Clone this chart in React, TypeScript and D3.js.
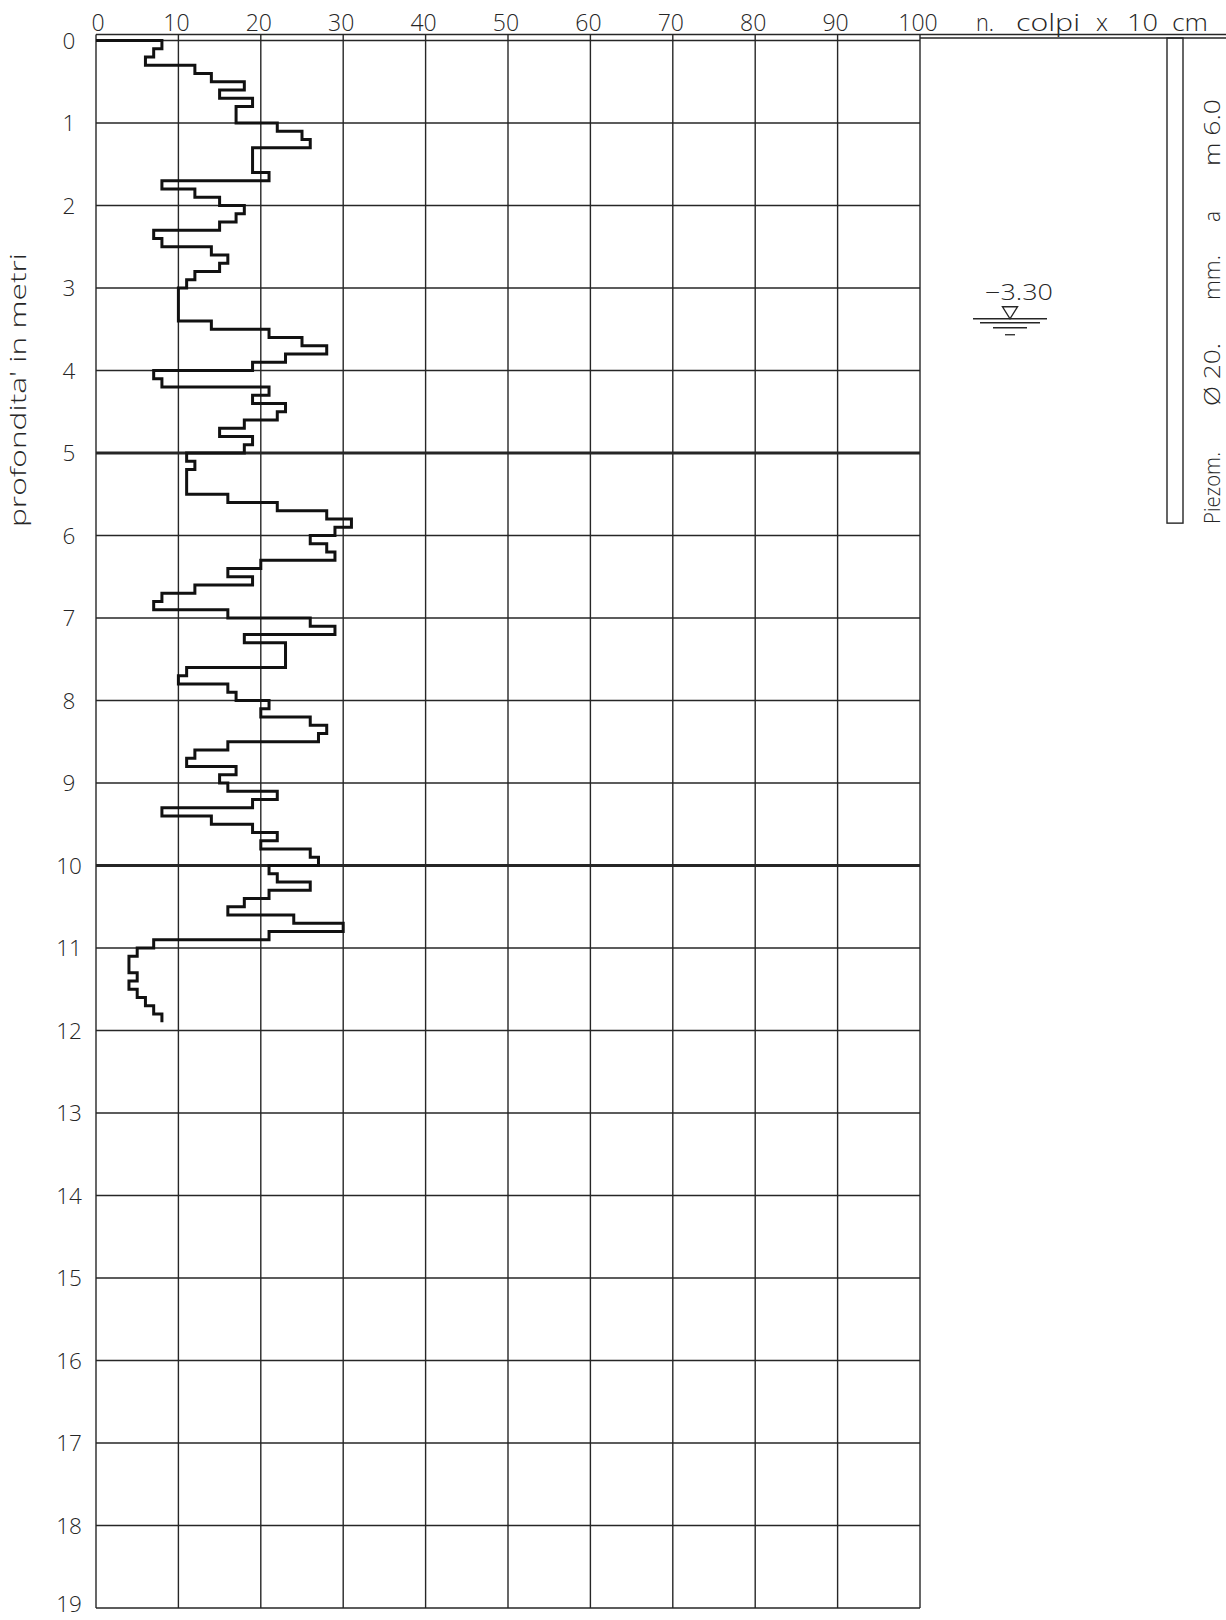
import React, { useEffect } from "react";
import * as d3 from "d3";

// ---- data ----
const depthStep = 0.1; // m per reading
// n. colpi x 10 cm, from 0.0 m downward, one value per 10 cm
const blows: number[] = [
  8, 7, 6, 12, 14, 18, 15, 19, 17, 17,
  22, 25, 26, 19, 19, 19, 21, 8, 12, 15,
  18, 17, 15, 7, 8, 14, 16, 15, 12, 11,
  10, 10, 10, 10, 14, 21, 25, 28, 23, 19,
  7, 8, 21, 19, 23, 22, 18, 15, 19, 18,
  11, 12, 11, 11, 11, 16, 22, 28, 31, 29,
  26, 28, 29, 20, 16, 19, 12, 8, 7, 16,
  26, 29, 18, 23, 23, 23, 11, 10, 16, 17,
  21, 20, 26, 28, 27, 16, 12, 11, 17, 15,
  16, 22, 19, 8, 14, 19, 22, 20, 26, 27,
  21, 22, 26, 21, 18, 16, 24, 30, 21, 7,
  5, 4, 4, 5, 4, 5, 6, 7, 8,
];
const xTicks: number[] = [0, 10, 20, 30, 40, 50, 60, 70, 80, 90, 100];
const depthTicks: number[] = d3.range(0, 20);
const heavyDepths: number[] = [5, 10];
const waterDepth = 3.3;
const waterLabel = "\u22123.30";
const piezoDepth = 5.85;
const xTitleWords: string[] = ["n.", "colpi", "x", "10", "cm"];
const yTitle = "profondita' in metri";
const piezoWords: string[] = ["Piezom.", "Ø 20.", "mm.", "a", "m 6.0"];

// layout of the word runs (pixel extents on the page)
const xTitleSpans: [number, number][] = [
  [976, 994], [1016, 1080], [1096, 1108], [1127, 1158], [1172, 1208],
];
const piezoSpans: [number, number][] = [
  [524, 452], [406, 343], [300, 255], [222, 211], [166, 99],
];

const FONT = "'Open Sans', 'DejaVu Sans', sans-serif";
const INK = "#262626";

export default function App() {
  useEffect(() => {
    document.body.style.margin = "0";
  }, []);

  const W = 1226;
  const H = 1620;
  const x = d3.scaleLinear().domain([0, 100]).range([96, 920]);
  const y = d3.scaleLinear().domain([0, 19]).range([40.5, 1608]);

  const pts: [number, number][] = [[0, 0]];
  blows.forEach((v, i) => {
    pts.push([v, i * depthStep]);
    pts.push([v, (i + 1) * depthStep]);
  });
  const line = d3
    .line<[number, number]>()
    .x((d) => x(d[0]))
    .y((d) => y(d[1]));

  const wy = y(waterDepth);
  const wx = 1010;

  return (
    <svg width={W} height={H} style={{ display: "block", background: "#fff" }}>
      {/* top header lines */}
      <line x1={x(0)} x2={W} y1={34.5} y2={34.5} stroke={INK} strokeWidth={1.3} />
      <line x1={x(100)} x2={W} y1={38} y2={38} stroke={INK} strokeWidth={1.3} />
      {/* grid */}
      {xTicks.map((t) => (
        <line key={"v" + t} x1={x(t)} x2={x(t)} y1={34.5} y2={y(19)} stroke={INK} strokeWidth={1.4} />
      ))}
      {depthTicks.map((d) => (
        <line
          key={"h" + d}
          x1={x(0)}
          x2={x(100)}
          y1={y(d)}
          y2={y(d)}
          stroke={INK}
          strokeWidth={heavyDepths.includes(d) ? 2.8 : 1.4}
        />
      ))}
      {/* top tick labels */}
      {xTicks.map((t) => (
        <text
          key={"xt" + t}
          x={x(t) + (t === 0 ? 2 : -2)}
          y={31}
          textAnchor="middle"
          fontFamily={FONT}
          fontSize={23}
          fill={INK}
          fontWeight={300}
        >
          {t}
        </text>
      ))}
      {xTitleWords.map((w, i) => (
        <text
          key={"xw" + i}
          x={xTitleSpans[i][0]}
          y={31}
          fontFamily={FONT}
          fontSize={23}
          fill={INK}
          fontWeight={300}
          textLength={xTitleSpans[i][1] - xTitleSpans[i][0]}
          lengthAdjust="spacingAndGlyphs"
        >
          {w}
        </text>
      ))}
      {/* depth labels */}
      {depthTicks.map((d) => (
        <text
          key={"yt" + d}
          x={69}
          y={Math.min(y(d) + 8, H - 8)}
          textAnchor="middle"
          fontFamily={FONT}
          fontSize={22.5}
          fill={INK}
          fontWeight={300}
        >
          {d}
        </text>
      ))}
      <text
        transform={`translate(26,390) rotate(-90)`}
        textAnchor="middle"
        fontFamily={FONT}
        fontSize={22}
        fill={INK}
        fontWeight={300}
        textLength={274}
        lengthAdjust="spacingAndGlyphs"
      >
        {yTitle}
      </text>
      {/* step line */}
      <path d={line(pts) || ""} fill="none" stroke="#111" strokeWidth={3} strokeLinejoin="miter" />
      {/* water table */}
      <text
        x={985}
        y={wy - 13}
        fontFamily={FONT}
        fontSize={22}
        fill={INK}
        fontWeight={300}
        textLength={68}
        lengthAdjust="spacingAndGlyphs"
      >
        {waterLabel}
      </text>
      <path
        d={`M${wx - 7.5},${wy - 6} L${wx + 7.5},${wy - 6} L${wx},${wy + 6} Z`}
        fill="none"
        stroke={INK}
        strokeWidth={1.4}
      />
      <line x1={wx - 37} x2={wx + 37} y1={wy + 6} y2={wy + 6} stroke={INK} strokeWidth={1.6} />
      <line x1={wx - 30} x2={wx + 30} y1={wy + 10} y2={wy + 10} stroke={INK} strokeWidth={1.3} />
      <line x1={wx - 17} x2={wx + 17} y1={wy + 15} y2={wy + 15} stroke={INK} strokeWidth={1.3} />
      <line x1={wx - 5} x2={wx + 5} y1={wy + 22} y2={wy + 22} stroke={INK} strokeWidth={1.3} />
      {/* piezometer */}
      <rect x={1167} y={38} width={16} height={y(piezoDepth) - 38} fill="none" stroke={INK} strokeWidth={1.4} />
      {piezoWords.map((w, i) => (
        <text
          key={"pw" + i}
          transform={`translate(1220,${piezoSpans[i][0]}) rotate(-90)`}
          fontFamily={FONT}
          fontSize={22}
          fill={INK}
          fontWeight={300}
          textLength={piezoSpans[i][0] - piezoSpans[i][1]}
          lengthAdjust="spacingAndGlyphs"
        >
          {w}
        </text>
      ))}
    </svg>
  );
}
